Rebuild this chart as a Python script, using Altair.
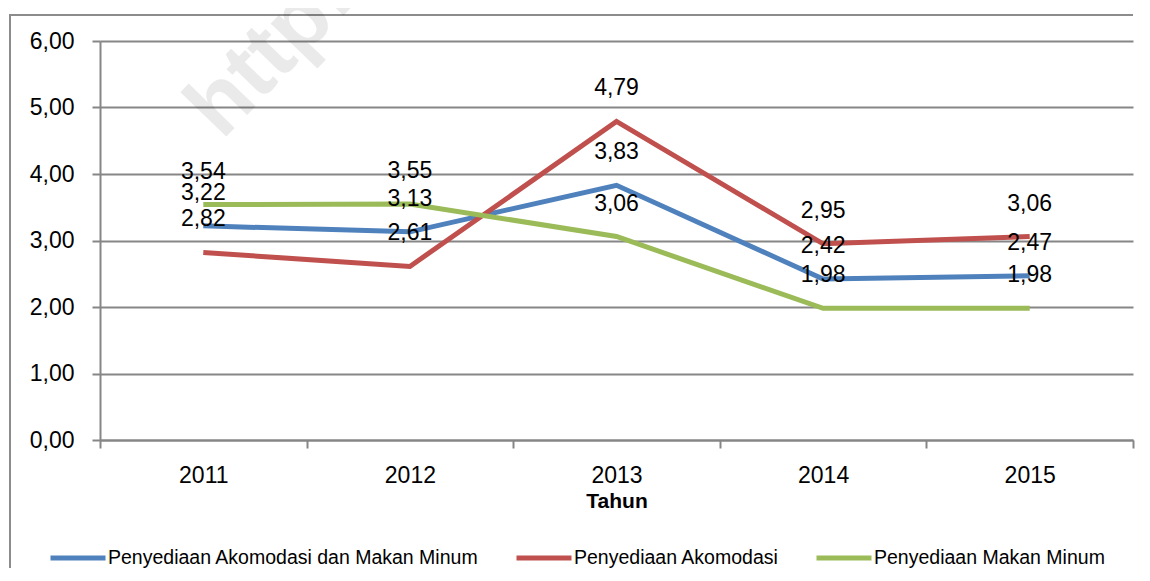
import altair as alt
import pandas as pd

years = ["2011", "2012", "2013", "2014", "2015"]
names = ["Penyediaan Akomodasi dan Makan Minum", "Penyediaan Akomodasi", "Penyediaan Makan Minum"]
colors = ["#4F81BD", "#C0504D", "#9BBB59"]
akmamin = [3.22, 3.13, 3.83, 2.42, 2.47]
akomodasi = [2.82, 2.61, 4.79, 2.95, 3.06]
makanminum = [3.54, 3.55, 3.06, 1.98, 1.98]
y_ticks = [0, 1, 2, 3, 4, 5, 6]

rows = []
for name, vals in zip(names, [akmamin, akomodasi, makanminum]):
    for yr, v in zip(years, vals):
        rows.append({"year": yr, "series": name, "value": v})
df = pd.DataFrame(rows)

FONT = "Liberation Sans"
GRID = "#868686"

x_enc = alt.X(
    "year:N", sort=years, bandPosition=0.5,
    scale=alt.Scale(type="band", paddingInner=0, paddingOuter=0),
    axis=alt.Axis(title="Tahun", labelAngle=0, tickBand="extent", domainColor=GRID,
                  tickColor=GRID, tickSize=8, domainWidth=2, tickWidth=2,
                  labelFontSize=23, labelPadding=16, labelColor="#000",
                  titleFontSize=21, titleFontWeight="bold", titlePadding=3, titleColor="#000"),
)
y_enc = alt.Y(
    "value:Q", scale=alt.Scale(domain=[0, 6]),
    axis=alt.Axis(values=y_ticks, title=None, grid=True, gridColor=GRID, gridWidth=2,
                  domainColor=GRID, domainWidth=2, tickColor=GRID, tickWidth=2, tickSize=8,
                  labelFontSize=23, labelPadding=18, labelColor="#000",
                  labelExpr="replace(format(datum.value, '.2f'), '.', ',')"),
)

base = alt.Chart(df)

lines = base.mark_line(strokeWidth=5).encode(
    x=x_enc, y=y_enc,
    color=alt.Color("series:N", scale=alt.Scale(domain=names, range=colors),
                    legend=alt.Legend(title=None, orient="none", legendX=-52, legendY=487,
                                      direction="horizontal", symbolType="stroke",
                                      symbolStrokeWidth=5, symbolSize=3025,
                                      labelFontSize=19.5, labelLimit=600, columnPadding=27,
                                      labelOffset=0, labelColor="#000", labelFont=FONT)),
)

labels = base.transform_calculate(
    lbl="replace(format(datum.value, '.2f'), '.', ',')"
).mark_text(dy=-33, fontSize=23, baseline="middle", color="#000").encode(
    x=alt.X("year:N", sort=years, bandPosition=0.5), y="value:Q", text="lbl:N"
)

deco = alt.Data(values=[{"k": 1}])
frame_top = alt.Chart(deco).mark_rect(fill="#8c8c8c", strokeWidth=0).encode(
    x=alt.value(-91), x2=alt.value(1033), y=alt.value(-27), y2=alt.value(-25)
)
frame_left = alt.Chart(deco).mark_rect(fill="#8c8c8c", strokeWidth=0).encode(
    x=alt.value(-91), x2=alt.value(-89), y=alt.value(-27), y2=alt.value(527)
)
watermark = alt.Chart(deco).mark_text(
    text="http://", angle=314, fontSize=88, fontWeight="bold", color="#000", opacity=0.08,
    align="left", baseline="alphabetic"
).encode(x=alt.value(122), y=alt.value(100))

chart = alt.layer(frame_top, frame_left, watermark, lines, labels).properties(
    width=1033, height=399,
    autosize=alt.AutoSizeParams(type="none"),
    padding={"left": 92, "top": 33, "right": 9, "bottom": 128},
).configure(font=FONT).configure_view(strokeWidth=0)

chart.save("out.html", embed_options={"renderer": "svg", "actions": False})
